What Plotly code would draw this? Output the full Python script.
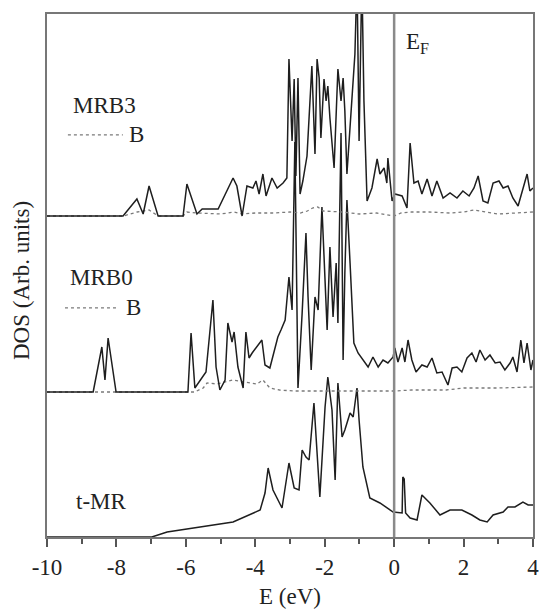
import plotly.graph_objects as go

# ---------------- data (DOS in arbitrary units) ----------------
E_mrb3 = [-10, -7.81, -7.41, -7.23, -7.06, -6.80, -6.08, -5.97, -5.68, -5.53, -5.07, -4.81, -4.64, -4.53,
          -4.38, -4.24, -4.07, -3.98, -3.89, -3.78, -3.69, -3.52, -3.37, -3.20, -3.09, -3.03, -2.94, -2.88,
          -2.83, -2.77, -2.71, -2.63, -2.51, -2.37, -2.34, -2.28, -2.22, -2.16, -2.11, -2.02, -1.96, -1.91,
          -1.85, -1.73, -1.62, -1.53, -1.47, -1.42, -1.36, -1.21, -1.13, -1.07, -1.01, -0.93, -0.87, -0.78,
          -0.64, -0.49, -0.41, -0.29, -0.21, -0.18, -0.06, 0.02, 0.23, 0.37, 0.46, 0.57, 0.69, 0.80, 0.95,
          1.09, 1.23, 1.41, 1.61, 1.81, 1.98, 2.16, 2.30, 2.42, 2.56, 2.70, 2.85, 3.02, 3.14, 3.28, 3.42,
          3.57, 3.71, 3.83, 3.91, 4.00]
D_mrb3 = [0, 0, 17, 2, 30, 0, 0, 32, 2, 7, 7, 25, 38, 30,
          0, 30, 28, 35, 22, 42, 20, 38, 28, 33, 38, 157, 75, 137,
          40, 138, 22, 35, 60, 150, 115, 62, 157, 138, 78, 137, 115, 130,
          98, 48, 147, 115, 138, 105, 42, 115, 162, 240, 75, 240, 115, 15,
          28, 57, 42, 48, 33, 58, 15, 22, 20, 8, 73, 33, 35, 22, 37,
          20, 35, 18, 23, 18, 25, 20, 28, 40, 15, 13, 33, 35, 28, 30, 18,
          10, 28, 42, 25, 28]

E_mrb3_B = [-10, -7.8, -7.4, -7.06, -6.8, -6.08, -5.97, -5.7, -5.0, -4.6, -4.38, -4.0, -3.5, -3.0, -2.7,
            -2.5, -2.35, -2.2, -2.05, -1.5, -1.0, -0.5, 0.0, 0.2, 0.5, 1.0, 1.6, 2.0, 2.3, 2.6, 3.0, 3.5, 4.0]
D_mrb3_B = [0, 0, 4, 6, 0, 0, 4, 3, 2, 4, 2, 3, 3, 4, 3,
            5, 8, 9, 5, 4, 2, 3, 0, 3, 4, 4, 3, 4, 6, 4, 2, 3, 4]

E_mrb0 = [-10, -8.67, -8.42, -8.33, -8.24, -8.01, -5.94, -5.85, -5.74, -5.53, -5.42, -5.22, -5.13, -5.02,
          -4.87, -4.79, -4.67, -4.61, -4.50, -4.35, -4.27, -4.18, -4.09, -3.81, -3.72, -3.58, -3.49, -3.35,
          -3.26, -3.14, -3.03, -2.94, -2.86, -2.77, -2.65, -2.54, -2.48, -2.39, -2.28, -2.19, -2.08, -2.02,
          -1.93, -1.85, -1.76, -1.67, -1.62, -1.53, -1.47, -1.42, -1.36, -1.27, -1.16, -1.04, -0.90, -0.75,
          -0.61, -0.46, -0.32, -0.18, -0.03, 0.02, 0.11, 0.23, 0.31, 0.40, 0.51, 0.63, 0.80, 0.95, 1.09,
          1.23, 1.38, 1.55, 1.67, 1.81, 1.95, 2.10, 2.24, 2.36, 2.47, 2.62, 2.76, 2.91, 3.05, 3.19, 3.34,
          3.42, 3.54, 3.65, 3.74, 3.83, 3.94, 4.00]
D_mrb0 = [0, 0, 45, 12, 54, 0, 0, 59, 4, 15, 20, 92, 25, 2,
          12, 69, 50, 60, 25, 4, 60, 34, 39, 52, 27, 24, 37, 55,
          62, 72, 115, 82, 250, 4, 79, 159, 95, 22, 95, 82, 185, 129,
          62, 145, 75, 129, 69, 259, 32, 119, 192, 129, 49, 39, 32, 25,
          35, 25, 32, 29, 35, 44, 30, 44, 30, 52, 32, 20, 27, 25, 34,
          19, 20, 7, 24, 25, 20, 34, 39, 30, 42, 32, 37, 29, 30, 22, 29,
          35, 20, 52, 29, 49, 22, 32]

E_mrb0_B = [-10, -5.75, -5.5, -5.39, -5.1, -4.64, -4.3, -3.95, -3.78, -3.58, -3.3, -2.9, -2.0, -1.0,
            0.0, 0.5, 1.0, 1.5, 2.0, 3.0, 4.0]
D_mrb0_B = [0, 0, 4, 9, 8, 12, 10, 8, 12, 4, 2, 1, 1, 1,
            1, 2, 2, 2, 4, 4, 5]

E_tmr = [-10, -6.98, -6.54, -5.59, -4.64, -3.86, -3.72, -3.63, -3.49, -3.23, -3.03, -2.88, -2.74, -2.65,
         -2.54, -2.45, -2.31, -2.14, -1.99, -1.91, -1.79, -1.70, -1.62, -1.50, -1.42, -1.27, -1.18, -1.07,
         -1.01, -0.90, -0.70, -0.41, -0.03, 0.23, 0.25, 0.29, 0.33, 0.46, 0.66, 0.80, 1.03, 1.32, 1.61,
         1.95, 2.24, 2.47, 2.68, 2.85, 3.14, 3.28, 3.48, 3.71, 3.86, 4.00]
D_tmr = [0, 0, 5, 10, 15, 27, 44, 69, 47, 29, 74, 49, 47, 87,
         80, 77, 134, 40, 130, 160, 127, 57, 154, 100, 107, 124, 120, 149,
         117, 70, 39, 34, 25, 24, 60, 58, 24, 19, 17, 42, 34, 22, 27,
         27, 22, 17, 15, 22, 25, 30, 30, 35, 32, 32]

x_tickvals = [-10, -8, -6, -4, -2, 0, 2, 4]
x_ticktext = ["-10", "-8", "-6", "-4", "-2", "0", "2", "4"]
x_minor = [-9, -7, -5, -3, -1, 1, 3]

# vertical stacking offsets of the three panels (layout only)
OFF_TMR, OFF_MRB0, OFF_MRB3 = 0, 145, 321

FONT = "Liberation Serif, Times New Roman, serif"
MAIN = "#1e1e1e"
DOT = "#7a7a7a"

fig = go.Figure()

def add(x, d, off, color, width, dash=None):
    fig.add_trace(go.Scatter(x=x, y=[v + off for v in d], mode="lines",
                             line=dict(color=color, width=width, dash=dash),
                             showlegend=False, hoverinfo="skip"))

add(E_tmr, D_tmr, OFF_TMR, MAIN, 1.5)
add(E_mrb0_B, D_mrb0_B, OFF_MRB0, DOT, 1.3, "dot")
add(E_mrb0, D_mrb0, OFF_MRB0, MAIN, 1.5)
add(E_mrb3_B, D_mrb3_B, OFF_MRB3, DOT, 1.3, "dot")
add(E_mrb3, D_mrb3, OFF_MRB3, MAIN, 1.5)

fig.add_shape(type="line", x0=0, x1=0, xref="x", y0=0, y1=1, yref="paper",
              line=dict(color="#8a8a8a", width=2.5))

# legend-like sample lines for B
for x0, x1, yy in [(0.043, 0.156, 0.769), (0.037, 0.146, 0.438)]:
    fig.add_shape(type="line", xref="paper", yref="paper", x0=x0, x1=x1, y0=yy, y1=yy,
                  line=dict(color=DOT, width=1.3, dash="dot"))

tf = dict(family=FONT, size=23, color="#222")
ann = [
    dict(text="MRB3", x=0.119, y=0.826),
    dict(text="B", x=0.185, y=0.769),
    dict(text="MRB0", x=0.113, y=0.497),
    dict(text="B", x=0.177, y=0.438),
    dict(text="t-MR", x=0.113, y=0.067),
    dict(text="E (eV)", x=0.5, y=-0.1147),
]
for a in ann:
    fig.add_annotation(text=a["text"], x=a["x"], y=a["y"], xref="paper", yref="paper",
                       showarrow=False, font=tf, xanchor="center", yanchor="middle")
fig.add_annotation(text="DOS (Arb. units)", x=-0.0514, y=0.4895, xref="paper", yref="paper",
                   showarrow=False, font=tf, textangle=-90, xanchor="center", yanchor="middle")
fig.add_annotation(text="E<sub>F</sub>", x=0.68, y=0.944, xref="x", yref="paper",
                   showarrow=False, font=tf, xanchor="center", yanchor="middle")

fig.update_xaxes(range=[-10, 4], tickmode="array", tickvals=x_tickvals, ticktext=x_ticktext,
                 ticks="outside", ticklen=8, tickwidth=1.5, tickcolor="#555",
                 minor=dict(tickmode="array", tickvals=x_minor, ticks="outside", ticklen=5,
                            tickwidth=1.5, tickcolor="#555"),
                 showline=True, linecolor="#777", linewidth=2, mirror=True,
                 showgrid=False, zeroline=False, tickfont=tf, automargin=False,
                 ticklabeloverflow="allow")
fig.update_yaxes(range=[0, 523], showticklabels=False, ticks="", showline=True,
                 linecolor="#777", linewidth=2, mirror=True, showgrid=False, zeroline=False,
                 automargin=False)

fig.update_layout(width=539, height=610, autosize=False, margin=dict(l=47, r=6, t=14, b=73, autoexpand=False),
                  plot_bgcolor="white", paper_bgcolor="white")

# remove the default page margin so the figure fills the window exactly
fig.write_html("out.html",
               config={"responsive": False, "displayModeBar": False},
               post_script="document.body.style.margin='0';document.body.style.overflow='hidden';")
